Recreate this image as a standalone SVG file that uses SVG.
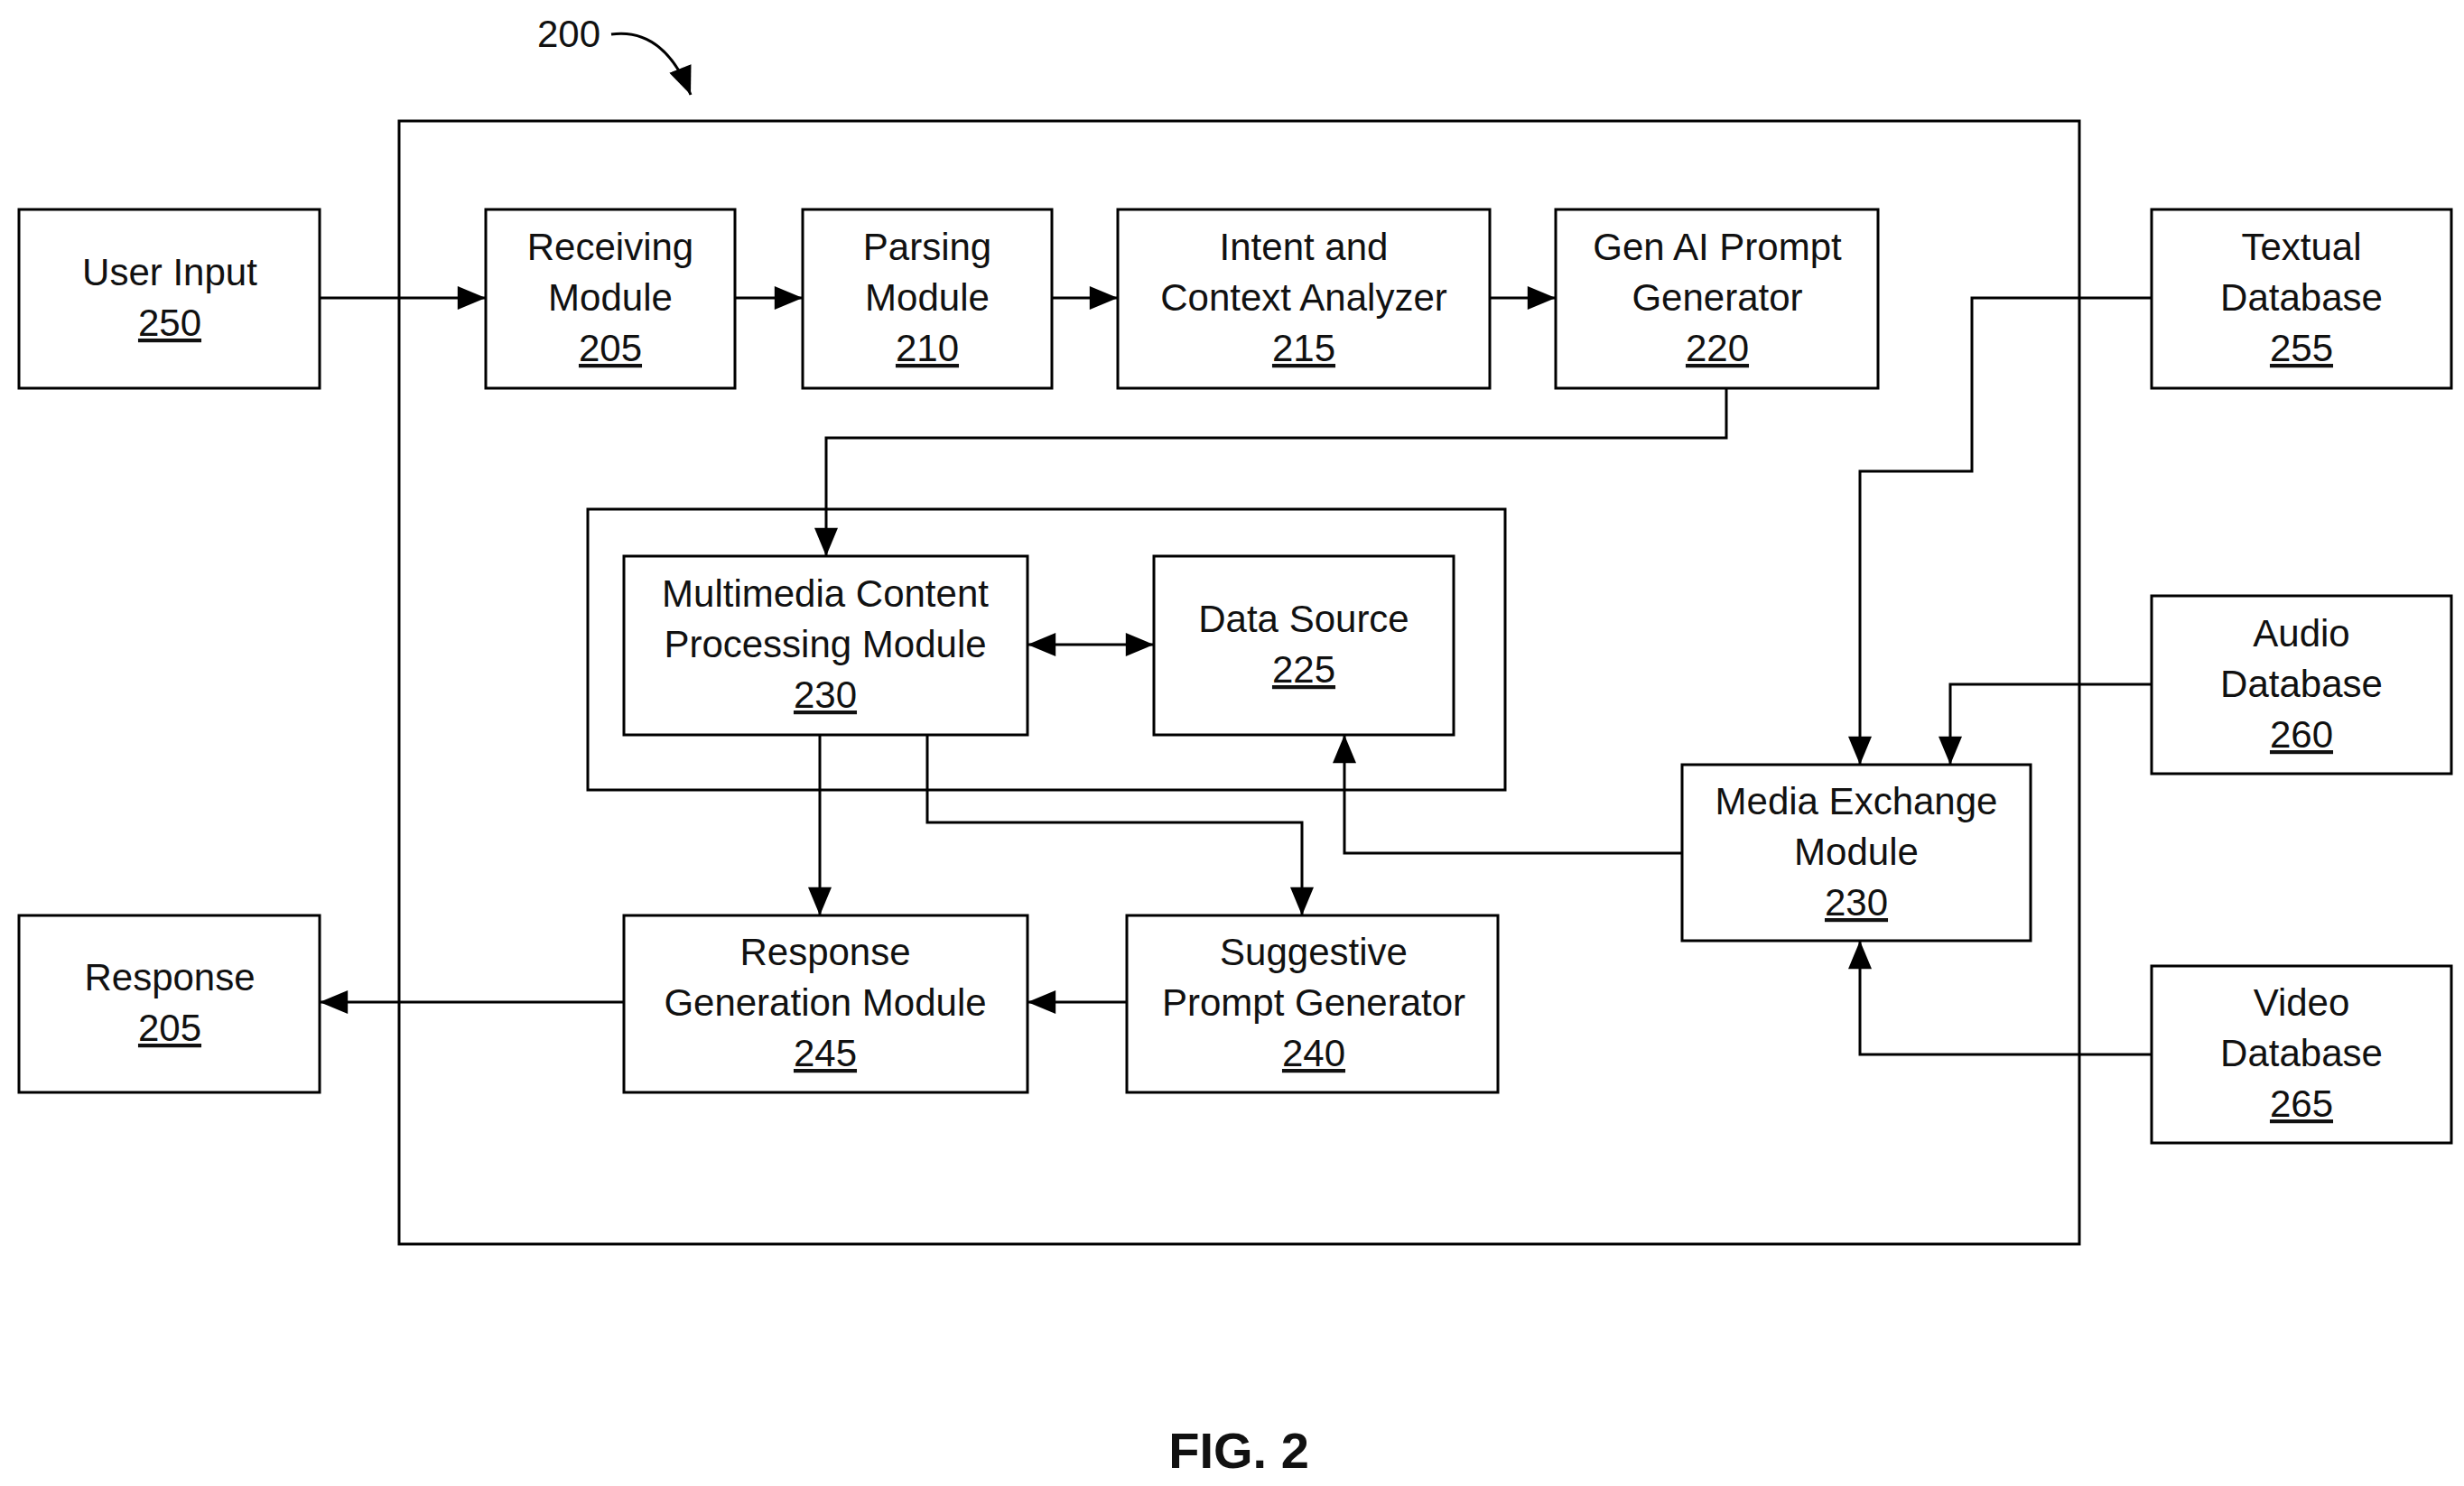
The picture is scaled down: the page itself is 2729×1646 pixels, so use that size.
<svg xmlns="http://www.w3.org/2000/svg" width="2729" height="1646" viewBox="0 0 2729 1646">
<defs>
<marker id="a" viewBox="0 0 10 10" refX="10" refY="5" markerWidth="10" markerHeight="10" markerUnits="userSpaceOnUse" orient="auto-start-reverse"><path d="M0,0 L10,5 L0,10 z" fill="#000"/></marker>
<style>
rect{fill:#fff;stroke:#000;stroke-width:3}
text{font-family:"Liberation Sans",Arial,sans-serif;font-size:42px;text-anchor:middle;fill:#111}
.u{text-decoration:underline}
#conn path{fill:none;stroke:#000;stroke-width:3}
</style>
<marker id="m" viewBox="0 0 24 20" refX="24" refY="10" markerWidth="32" markerHeight="26" markerUnits="userSpaceOnUse" orient="auto-start-reverse"><path d="M0,0 L24,10 L0,20 z" fill="#000"/></marker>
</defs>
<rect width="2729" height="1646" style="stroke:none"/>
<g id="outer"><rect x="442" y="134" width="1861" height="1244"/></g>
<g id="container"><rect x="651" y="564" width="1016" height="311"/></g>
<g id="n250"><rect x="21" y="232" width="333" height="198"/><text x="188" y="316">User Input</text><text x="188" y="372" class="u">250</text></g>
<g id="n205a"><rect x="538" y="232" width="276" height="198"/><text x="676" y="288">Receiving</text><text x="676" y="344">Module</text><text x="676" y="400" class="u">205</text></g>
<g id="n210"><rect x="889" y="232" width="276" height="198"/><text x="1027" y="288">Parsing</text><text x="1027" y="344">Module</text><text x="1027" y="400" class="u">210</text></g>
<g id="n215"><rect x="1238" y="232" width="412" height="198"/><text x="1444" y="288">Intent and</text><text x="1444" y="344">Context Analyzer</text><text x="1444" y="400" class="u">215</text></g>
<g id="n220"><rect x="1723" y="232" width="357" height="198"/><text x="1902" y="288">Gen AI Prompt</text><text x="1902" y="344">Generator</text><text x="1902" y="400" class="u">220</text></g>
<g id="n255"><rect x="2383" y="232" width="332" height="198"/><text x="2549" y="288">Textual</text><text x="2549" y="344">Database</text><text x="2549" y="400" class="u">255</text></g>
<g id="n230a"><rect x="691" y="616" width="447" height="198"/><text x="914" y="672">Multimedia Content</text><text x="914" y="728">Processing Module</text><text x="914" y="784" class="u">230</text></g>
<g id="n225"><rect x="1278" y="616" width="332" height="198"/><text x="1444" y="700">Data Source</text><text x="1444" y="756" class="u">225</text></g>
<g id="n260"><rect x="2383" y="660" width="332" height="197"/><text x="2549" y="716">Audio</text><text x="2549" y="772">Database</text><text x="2549" y="828" class="u">260</text></g>
<g id="n230b"><rect x="1863" y="847" width="386" height="195"/><text x="2056" y="902">Media Exchange</text><text x="2056" y="958">Module</text><text x="2056" y="1014" class="u">230</text></g>
<g id="n205b"><rect x="21" y="1014" width="333" height="196"/><text x="188" y="1097">Response</text><text x="188" y="1153" class="u">205</text></g>
<g id="n245"><rect x="691" y="1014" width="447" height="196"/><text x="914" y="1069">Response</text><text x="914" y="1125">Generation Module</text><text x="914" y="1181" class="u">245</text></g>
<g id="n240"><rect x="1248" y="1014" width="411" height="196"/><text x="1455" y="1069">Suggestive</text><text x="1455" y="1125">Prompt Generator</text><text x="1455" y="1181" class="u">240</text></g>
<g id="n265"><rect x="2383" y="1070" width="332" height="196"/><text x="2549" y="1125">Video</text><text x="2549" y="1181">Database</text><text x="2549" y="1237" class="u">265</text></g>
<g id="conn">
<path d="M354,330 H538" marker-end="url(#m)"/>
<path d="M814,330 H889" marker-end="url(#m)"/>
<path d="M1165,330 H1238" marker-end="url(#m)"/>
<path d="M1650,330 H1723" marker-end="url(#m)"/>
<path d="M1912,430 V485 H915 V616" marker-end="url(#m)"/>
<path d="M1138,714 H1278" marker-start="url(#m)" marker-end="url(#m)"/>
<path d="M908,814 V1014" marker-end="url(#m)"/>
<path d="M1027,814 V911 H1442 V1014" marker-end="url(#m)"/>
<path d="M1248,1110 H1138" marker-end="url(#m)"/>
<path d="M691,1110 H354" marker-end="url(#m)"/>
<path d="M2383,330 H2184 V522 H2060 V847" marker-end="url(#m)"/>
<path d="M2383,758 H2160 V847" marker-end="url(#m)"/>
<path d="M1863,945 H1489 V814" marker-end="url(#m)"/>
<path d="M2383,1168 H2060 V1042" marker-end="url(#m)"/>
<path d="M677,38 Q735,30 765,105" marker-end="url(#m)"/>
</g>
<text x="630" y="52">200</text>
<text x="1372" y="1626" style="font-weight:bold;font-size:56px">FIG. 2</text>
</svg>
